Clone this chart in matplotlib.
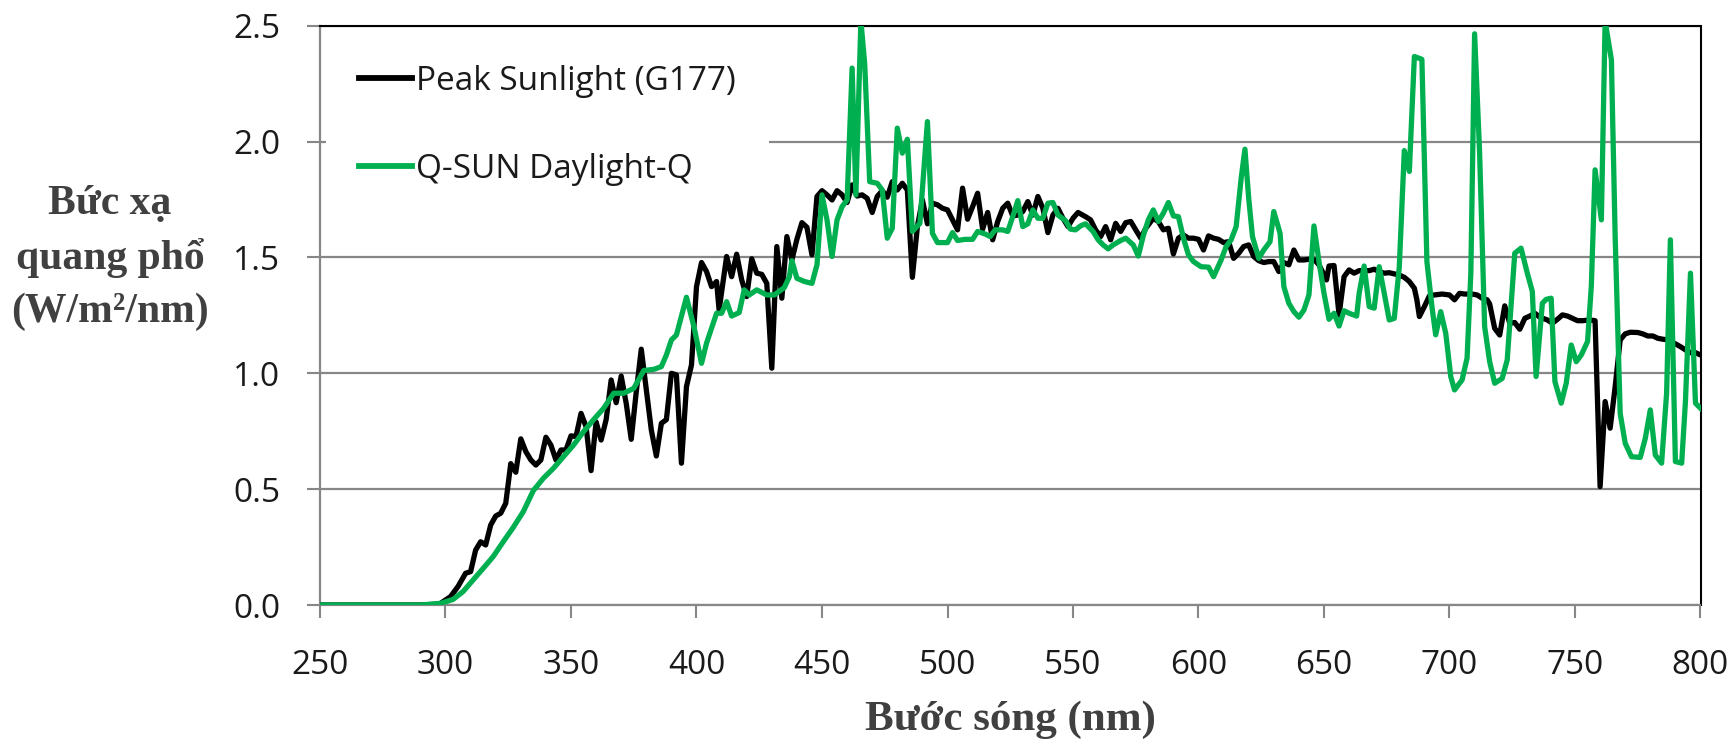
import matplotlib
matplotlib.use("Agg")
import matplotlib.pyplot as plt

# ---------------- data ----------------
sun_nm = [250, 270, 290, 296, 298, 302, 305, 308, 310, 312, 314, 316, 318, 320, 322, 324, 326, 328, 330, 332,
          334, 336, 338, 340, 342, 344, 346, 348, 350, 352, 354, 356, 358, 360, 362, 364, 366, 368, 370, 372,
          374, 376, 378, 380, 382, 384, 386, 388, 390, 392, 394, 396, 398, 400, 402, 404, 406, 408, 409, 412,
          414, 416, 418, 420, 422, 424, 426, 428, 430, 432, 434, 436, 438, 440, 442, 444, 446, 448, 450, 452,
          454, 456, 458, 460, 462, 464, 466, 468, 470, 472, 474, 476, 478, 480, 482, 484, 486, 488, 490, 492,
          494, 496, 498, 500, 502, 504, 506, 508, 510, 512, 514, 516, 518, 520, 522, 524, 526, 528, 530, 532,
          534, 536, 538, 540, 542, 544, 546, 548, 550, 552, 555, 557, 559, 561, 563, 565, 567, 569, 571, 573,
          575, 577, 579, 582, 584, 586, 588, 590, 592, 594, 596, 598, 600, 602, 604, 606, 608, 610, 612, 614,
          616, 618, 620, 622, 624, 626, 628, 630, 632, 634, 636, 638, 640, 642, 644, 646, 648, 651, 652, 654,
          656, 658, 660, 662, 664, 666, 668, 670, 672, 674, 676, 678, 680, 682, 684, 686, 687, 688, 690, 692,
          694, 697, 700, 702, 704, 706, 709, 711, 713, 715, 716, 718, 720, 722, 724, 726, 728, 730, 732, 734,
          736, 739, 741, 743, 745, 747, 749, 751, 753, 756, 758, 760, 762, 764, 766, 768, 770, 772, 775, 777,
          779, 781, 783, 785, 787, 790, 792, 794, 796, 798, 800]
sun_val = [0.0, 0.0, 0.0, 0.003, 0.007, 0.036, 0.08, 0.137, 0.144, 0.237, 0.273, 0.259, 0.345, 0.384, 0.396, 0.439, 0.61, 0.573, 0.717, 0.662,
           0.626, 0.604, 0.626, 0.724, 0.69, 0.626, 0.669, 0.669, 0.73, 0.727, 0.827, 0.77, 0.58, 0.79, 0.712, 0.8, 0.971, 0.873, 0.988, 0.87,
           0.715, 0.92, 1.104, 0.928, 0.755, 0.643, 0.784, 0.8, 1.0, 0.993, 0.612, 0.942, 1.036, 1.374, 1.478, 1.439, 1.374, 1.396, 1.273, 1.504,
           1.417, 1.514, 1.403, 1.331, 1.494, 1.432, 1.427, 1.388, 1.022, 1.547, 1.324, 1.59, 1.489, 1.578, 1.65, 1.63, 1.511, 1.763, 1.788, 1.77,
           1.748, 1.788, 1.77, 1.737, 1.813, 1.765, 1.77, 1.755, 1.694, 1.763, 1.788, 1.76, 1.827, 1.791, 1.82, 1.791, 1.414, 1.633, 1.748, 1.645,
           1.734, 1.727, 1.712, 1.705, 1.662, 1.619, 1.799, 1.665, 1.719, 1.777, 1.622, 1.694, 1.576, 1.655, 1.712, 1.734, 1.679, 1.683, 1.698, 1.741,
           1.683, 1.763, 1.712, 1.607, 1.683, 1.712, 1.669, 1.633, 1.669, 1.694, 1.676, 1.662, 1.619, 1.59, 1.633, 1.576, 1.647, 1.612, 1.65, 1.655,
           1.619, 1.583, 1.626, 1.669, 1.655, 1.619, 1.626, 1.515, 1.583, 1.597, 1.583, 1.583, 1.578, 1.532, 1.593, 1.583, 1.578, 1.564, 1.568, 1.496,
           1.518, 1.547, 1.554, 1.504, 1.486, 1.478, 1.482, 1.482, 1.439, 1.478, 1.468, 1.532, 1.489, 1.489, 1.492, 1.492, 1.468, 1.403, 1.463, 1.465,
           1.252, 1.417, 1.446, 1.432, 1.443, 1.443, 1.443, 1.449, 1.439, 1.432, 1.434, 1.429, 1.424, 1.414, 1.396, 1.367, 1.317, 1.245, 1.288, 1.334,
           1.338, 1.342, 1.338, 1.317, 1.345, 1.342, 1.342, 1.338, 1.324, 1.317, 1.299, 1.194, 1.165, 1.291, 1.216, 1.219, 1.19, 1.237, 1.247, 1.259,
           1.242, 1.23, 1.216, 1.233, 1.252, 1.247, 1.237, 1.227, 1.227, 1.23, 1.227, 0.511, 0.878, 0.763, 0.942, 1.144, 1.17, 1.177, 1.176, 1.17,
           1.161, 1.161, 1.151, 1.147, 1.144, 1.127, 1.115, 1.101, 1.089, 1.089, 1.079]

qsun_nm = [250, 270, 290, 298, 303, 307, 311, 315, 319, 323, 327, 331, 335, 339, 343, 347, 351, 355, 359, 363,
           367, 371, 375, 379, 383, 386, 388, 390, 392, 396, 399, 402, 404, 408, 410, 412, 414, 417, 419, 421,
           424, 428, 431, 435, 437, 438, 440, 443, 446, 448, 450, 452, 454, 456, 458, 460, 462, 463.5, 465.5, 467,
           469, 472, 474, 476, 478, 480, 482, 484, 486, 489, 492, 494, 496, 500, 502, 504, 507, 510, 512, 515,
           517, 519, 522, 524, 526, 528, 530, 532, 534, 536, 538, 540, 542, 544, 547, 549, 551, 553, 555, 558,
           560, 562, 564, 566, 569, 571, 574, 576, 578, 580, 582, 584, 586, 588, 590, 592, 594, 596, 598, 601,
           604, 606, 609, 611, 613, 615, 617, 618.5, 620, 621.5, 624, 626, 628.5, 630, 632.5, 634, 636, 638, 640, 642,
           644, 646, 648, 650, 652, 654, 656, 658, 660, 663, 664, 666, 668, 670, 672, 674, 676, 678, 680, 682,
           684, 686, 689, 691, 693, 694.5, 696.5, 698.5, 700.5, 702, 705, 707, 708.5, 710, 712, 714, 716, 718, 721, 723,
           726, 728.5, 731, 733, 734.5, 737, 738.5, 740.5, 742, 744.5, 746.5, 748.5, 750.5, 752.5, 755, 756.5, 758, 760.5, 762, 764.5,
           766, 768, 770, 772.5, 776, 778, 780, 782, 784.5, 786.5, 788, 790, 792.5, 794, 796, 798, 800]
qsun_val = [0.0, 0.0, 0.0, 0.007, 0.024, 0.058, 0.108, 0.158, 0.209, 0.273, 0.335, 0.403, 0.494, 0.547, 0.59, 0.64, 0.69, 0.748, 0.8, 0.849,
            0.914, 0.914, 0.935, 1.012, 1.017, 1.029, 1.079, 1.144, 1.165, 1.328, 1.2, 1.043, 1.13, 1.259, 1.259, 1.309, 1.247, 1.262, 1.36, 1.338,
            1.36, 1.338, 1.338, 1.37, 1.417, 1.486, 1.41, 1.396, 1.388, 1.468, 1.77, 1.662, 1.504, 1.662, 1.719, 1.748, 2.317, 1.77, 2.52, 2.338,
            1.827, 1.82, 1.791, 1.583, 1.626, 2.058, 1.95, 2.01, 1.612, 1.647, 2.086, 1.604, 1.564, 1.564, 1.607, 1.573, 1.578, 1.578, 1.612, 1.601,
            1.59, 1.619, 1.619, 1.612, 1.676, 1.745, 1.633, 1.645, 1.705, 1.669, 1.669, 1.734, 1.737, 1.683, 1.659, 1.622, 1.619, 1.636, 1.645, 1.612,
            1.576, 1.554, 1.537, 1.554, 1.573, 1.583, 1.554, 1.506, 1.593, 1.662, 1.705, 1.655, 1.691, 1.737, 1.679, 1.676, 1.583, 1.511, 1.482, 1.46,
            1.458, 1.417, 1.489, 1.547, 1.576, 1.633, 1.842, 1.967, 1.755, 1.59, 1.496, 1.532, 1.568, 1.698, 1.604, 1.374, 1.302, 1.266, 1.242, 1.273,
            1.338, 1.636, 1.482, 1.345, 1.233, 1.259, 1.204, 1.27, 1.259, 1.247, 1.345, 1.463, 1.288, 1.281, 1.46, 1.345, 1.23, 1.237, 1.46, 1.961,
            1.871, 2.367, 2.355, 1.482, 1.288, 1.166, 1.266, 1.173, 0.986, 0.928, 0.971, 1.065, 1.432, 2.465, 1.95, 1.201, 1.05, 0.957, 0.978, 1.058,
            1.518, 1.54, 1.432, 1.353, 0.986, 1.302, 1.319, 1.324, 0.964, 0.871, 0.957, 1.122, 1.05, 1.079, 1.137, 1.374, 1.878, 1.662, 2.52, 2.353,
            1.59, 0.827, 0.698, 0.64, 0.637, 0.719, 0.842, 0.647, 0.612, 0.914, 1.576, 0.619, 0.612, 0.878, 1.432, 0.871, 0.849]

series_labels = ["Peak Sunlight (G177)", "Q-SUN Daylight-Q"]
x_ticks = [250, 300, 350, 400, 450, 500, 550, 600, 650, 700, 750, 800]
y_ticks = [0.0, 0.5, 1.0, 1.5, 2.0, 2.5]
x_title = "Bước sóng (nm)"
y_title = "Bức xạ\nquang phổ\n(W/m²/nm)"

# ---------------- figure ----------------
W, H = 1734, 740
fig = plt.figure(figsize=(W / 100, H / 100), dpi=100)
ax = fig.add_axes([320 / W, 1 - 605 / H, (1700.5 - 320) / W, (605 - 25.7) / H])

GREEN = "#00B050"
GRID = "#878787"
tick_font = "Open Sans"

ax.plot(sun_nm, sun_val, color="black", lw=3.8, solid_joinstyle="round", label=series_labels[0], zorder=3)
ax.plot(qsun_nm, qsun_val, color=GREEN, lw=3.8, solid_joinstyle="round", label=series_labels[1], zorder=4)

ax.set_xlim(250, 800)
ax.set_ylim(0, 2.5)
ax.set_xticks(x_ticks)
ax.set_xticklabels([str(v) for v in x_ticks])
ax.set_yticks(y_ticks)
ax.set_yticklabels([f"{v:.1f}" for v in y_ticks])

ax.yaxis.grid(True, color=GRID, lw=1.6)
ax.set_axisbelow(True)

for s in ("left", "bottom"):
    ax.spines[s].set_color(GRID)
    ax.spines[s].set_linewidth(1.6)
for s in ("top", "right"):
    ax.spines[s].set_color("black")
    ax.spines[s].set_linewidth(1.5)

ax.tick_params(axis="both", direction="out", length=9.5, width=1.5, color=GRID,
               labelsize=24, labelcolor="#1a1a1a")
ax.tick_params(axis="x", pad=22)
ax.tick_params(axis="y", pad=19)
for lab in ax.get_xticklabels() + ax.get_yticklabels():
    lab.set_fontfamily(tick_font)

leg = ax.legend(loc="upper left", bbox_to_anchor=(0.004, 0.99), frameon=True,
                prop={"family": tick_font, "size": 24}, handlelength=1.6,
                handletextpad=0.12, labelspacing=1.65, borderpad=1.0, borderaxespad=0.0)
leg.get_frame().set_facecolor("white")
leg.get_frame().set_edgecolor("none")
leg.get_frame().set_alpha(1.0)
leg.get_frame().set_boxstyle("square", pad=0.0)
for t in leg.get_texts():
    t.set_color("#1a1a1a")
for ln in leg.get_lines():
    ln.set_linewidth(4.2)

fig.text(110 / W, 1 - 258 / H, y_title, ha="center", va="center", multialignment="center",
         family="Liberation Serif", weight="bold", size=30, color="#404040", linespacing=1.5)
fig.text(1010 / W, 1 - 720 / H, x_title, ha="center", va="center",
         family="Liberation Serif", weight="bold", size=31, color="#404040")

fig.savefig("out.png", dpi=100)
